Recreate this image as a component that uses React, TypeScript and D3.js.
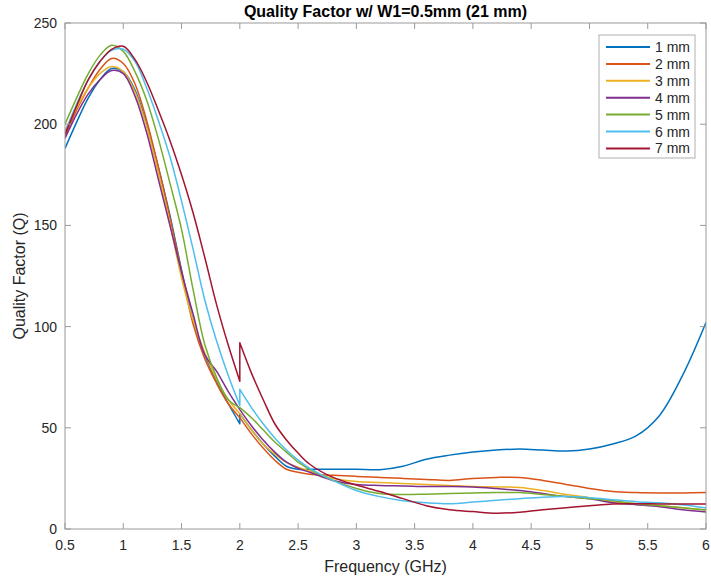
import React from "react";
import * as d3 from "d3";

const freq = [0.5,0.6,0.7,0.8,0.9,1.0,1.1,1.2,1.3,1.4,1.5,1.6,1.7,1.8,1.9,2.0,2.0,2.1,2.2,2.3,2.4,2.5,2.6,2.8,3.0,3.2,3.4,3.6,3.8,4.0,4.2,4.4,4.6,4.8,5.0,5.2,5.4,5.6,5.8,6.0];
const JUMP = 16; // index where second segment starts (duplicate 2.0 GHz)

const q1mm = [188,201,213,222,227.5,226,217,200,179,155,128,103,86,73,62,52, 57,49,42,36,31,29.5,29.5,29.5,29.5,29.3,31,34.5,36.5,38,39,39.5,39,38.5,39.5,42,46,56,76,102];
const q2mm = [194,207,218,227,232.5,230,220,202,179,154,127,101,84,72,62,55, 55,47,40,34,29.5,28,27,26.5,26,25.5,25,24.5,24,25,25.5,25.5,24,22,20,18.5,18,17.8,17.8,18];
const q3mm = [197,208,218,225,228.5,226,216,199,176,151,124,103,87,74,64,57, 57,49,42,37,33,30.5,28.5,25,23.5,23,22.5,22,21.5,21,20.8,20.5,19,17,15.5,13.5,12.5,11.5,10.5,9.4];
const q4mm = [193,205,215,222,226.5,225,214,196,173,150,127,106,86,78,68,59, 59,51,44,38,33,30,28,24,22,21.5,21.3,21,21,20.8,20,19,17.5,16,15,13,12,11,9.5,8.4];
const q5mm = [200,213,225,234,239,236,226,212,193,171,148,118,91,75,64,60, 60,55,49,43,38,33,29.5,24,20,17.5,17,17.2,17.5,17.8,18,18,17,16,15,14,12.5,11.5,10.5,9.4];
const q6mm = [196,210,222,231,236.5,237,231,218,202,184,162,138,113,93,76,61, 69,60,52,45,39,34,30,24,19,16,14,13,12.5,13.3,14.2,15,15.7,16,15.5,14.5,13.5,13,12,10.4];
const q7mm = [195,209,222,231,237,238.5,232,221,207,192,175,156,134,111,91,73, 92,77,64,52,44,37.5,32,25.5,21.7,18.5,15,11.5,9.5,8.6,7.8,8.3,9.5,10.5,11.5,12.4,12.5,12.4,12.4,12.4];

const seriesNames = ["1 mm","2 mm","3 mm","4 mm","5 mm","6 mm","7 mm"];
const seriesValues = [q1mm,q2mm,q3mm,q4mm,q5mm,q6mm,q7mm];
const seriesColors = ["#0072BD","#D95319","#EDB120","#7E2F8E","#77AC30","#4DBEEE","#A2142F"];

const xTicks = [0.5,1,1.5,2,2.5,3,3.5,4,4.5,5,5.5,6];
const yTicks = [0,50,100,150,200,250];

const title = "Quality Factor w/ W1=0.5mm (21 mm)";
const xLabel = "Frequency (GHz)";
const yLabel = "Quality Factor (Q)";

export default function App() {
  const W = 711, H = 577;
  const L = 65, R = 706, T = 23, B = 529;
  const x = d3.scaleLinear().domain([0.5, 6]).range([L, R]);
  const y = d3.scaleLinear().domain([0, 250]).range([B, T]);
  const font = "'Liberation Sans', Arial, Helvetica, sans-serif";
  const axisColor = "#9a9a9a";
  const textColor = "#262626";

  const makePath = (vals: number[]) => {
    const pts: [number, number][] = freq.map((f, i) => [x(f), y(vals[i])]);
    const gen = d3.line().curve(d3.curveCatmullRom.alpha(0.5));
    const a = gen(pts.slice(0, JUMP)) || "";
    const b = (gen(pts.slice(JUMP)) || "").replace(/^M/, "L");
    return a + b;
  };

  const tickLen = 6;

  return (
    <svg width={W} height={H} style={{ position: "absolute", left: 0, top: 0, background: "#fff" }}>
      <rect x={0} y={0} width={W} height={H} fill="#fff" />
      <defs>
        <clipPath id="plotClip">
          <rect x={L} y={T} width={R - L} height={B - T} />
        </clipPath>
      </defs>
      <g clipPath="url(#plotClip)">
        {seriesValues.map((vals, i) => (
          <path key={i} d={makePath(vals)} fill="none" stroke={seriesColors[i]} strokeWidth={1.5} strokeLinejoin="round" />
        ))}
      </g>
      <rect x={L} y={T} width={R - L} height={B - T} fill="none" stroke={axisColor} strokeWidth={1} />
      {xTicks.map((t) => (
        <g key={"x" + t}>
          <line x1={x(t)} x2={x(t)} y1={B} y2={B - tickLen} stroke={axisColor} />
          <line x1={x(t)} x2={x(t)} y1={T} y2={T + tickLen} stroke={axisColor} />
          <text x={x(t)} y={550} textAnchor="middle" fontFamily={font} fontSize={14} fill={textColor}>{String(t)}</text>
        </g>
      ))}
      {yTicks.map((t) => (
        <g key={"y" + t}>
          <line x1={L} x2={L + tickLen} y1={y(t)} y2={y(t)} stroke={axisColor} />
          <line x1={R} x2={R - tickLen} y1={y(t)} y2={y(t)} stroke={axisColor} />
          <text x={57} y={y(t) + 5} textAnchor="end" fontFamily={font} fontSize={14} fill={textColor}>{String(t)}</text>
        </g>
      ))}
      <text x={(L + R) / 2} y={17} textAnchor="middle" fontFamily={font} fontSize={16} fontWeight="bold" fill="#000">{title}</text>
      <text x={(L + R) / 2} y={572} textAnchor="middle" fontFamily={font} fontSize={16} fill={textColor}>{xLabel}</text>
      <text transform={`translate(25, ${(T + B) / 2}) rotate(-90)`} textAnchor="middle" fontFamily={font} fontSize={16} fill={textColor}>{yLabel}</text>
      <g>
        <rect x={599} y={35} width={96} height={123} fill="#fff" stroke="#b0b0b0" strokeWidth={1} />
        {seriesNames.map((n, i) => {
          const ly = 47 + i * 16.9;
          return (
            <g key={n}>
              <line x1={606} x2={650} y1={ly} y2={ly} stroke={seriesColors[i]} strokeWidth={2} />
              <text x={655} y={ly + 5} fontFamily={font} fontSize={14} fill={textColor}>{n}</text>
            </g>
          );
        })}
      </g>
    </svg>
  );
}
